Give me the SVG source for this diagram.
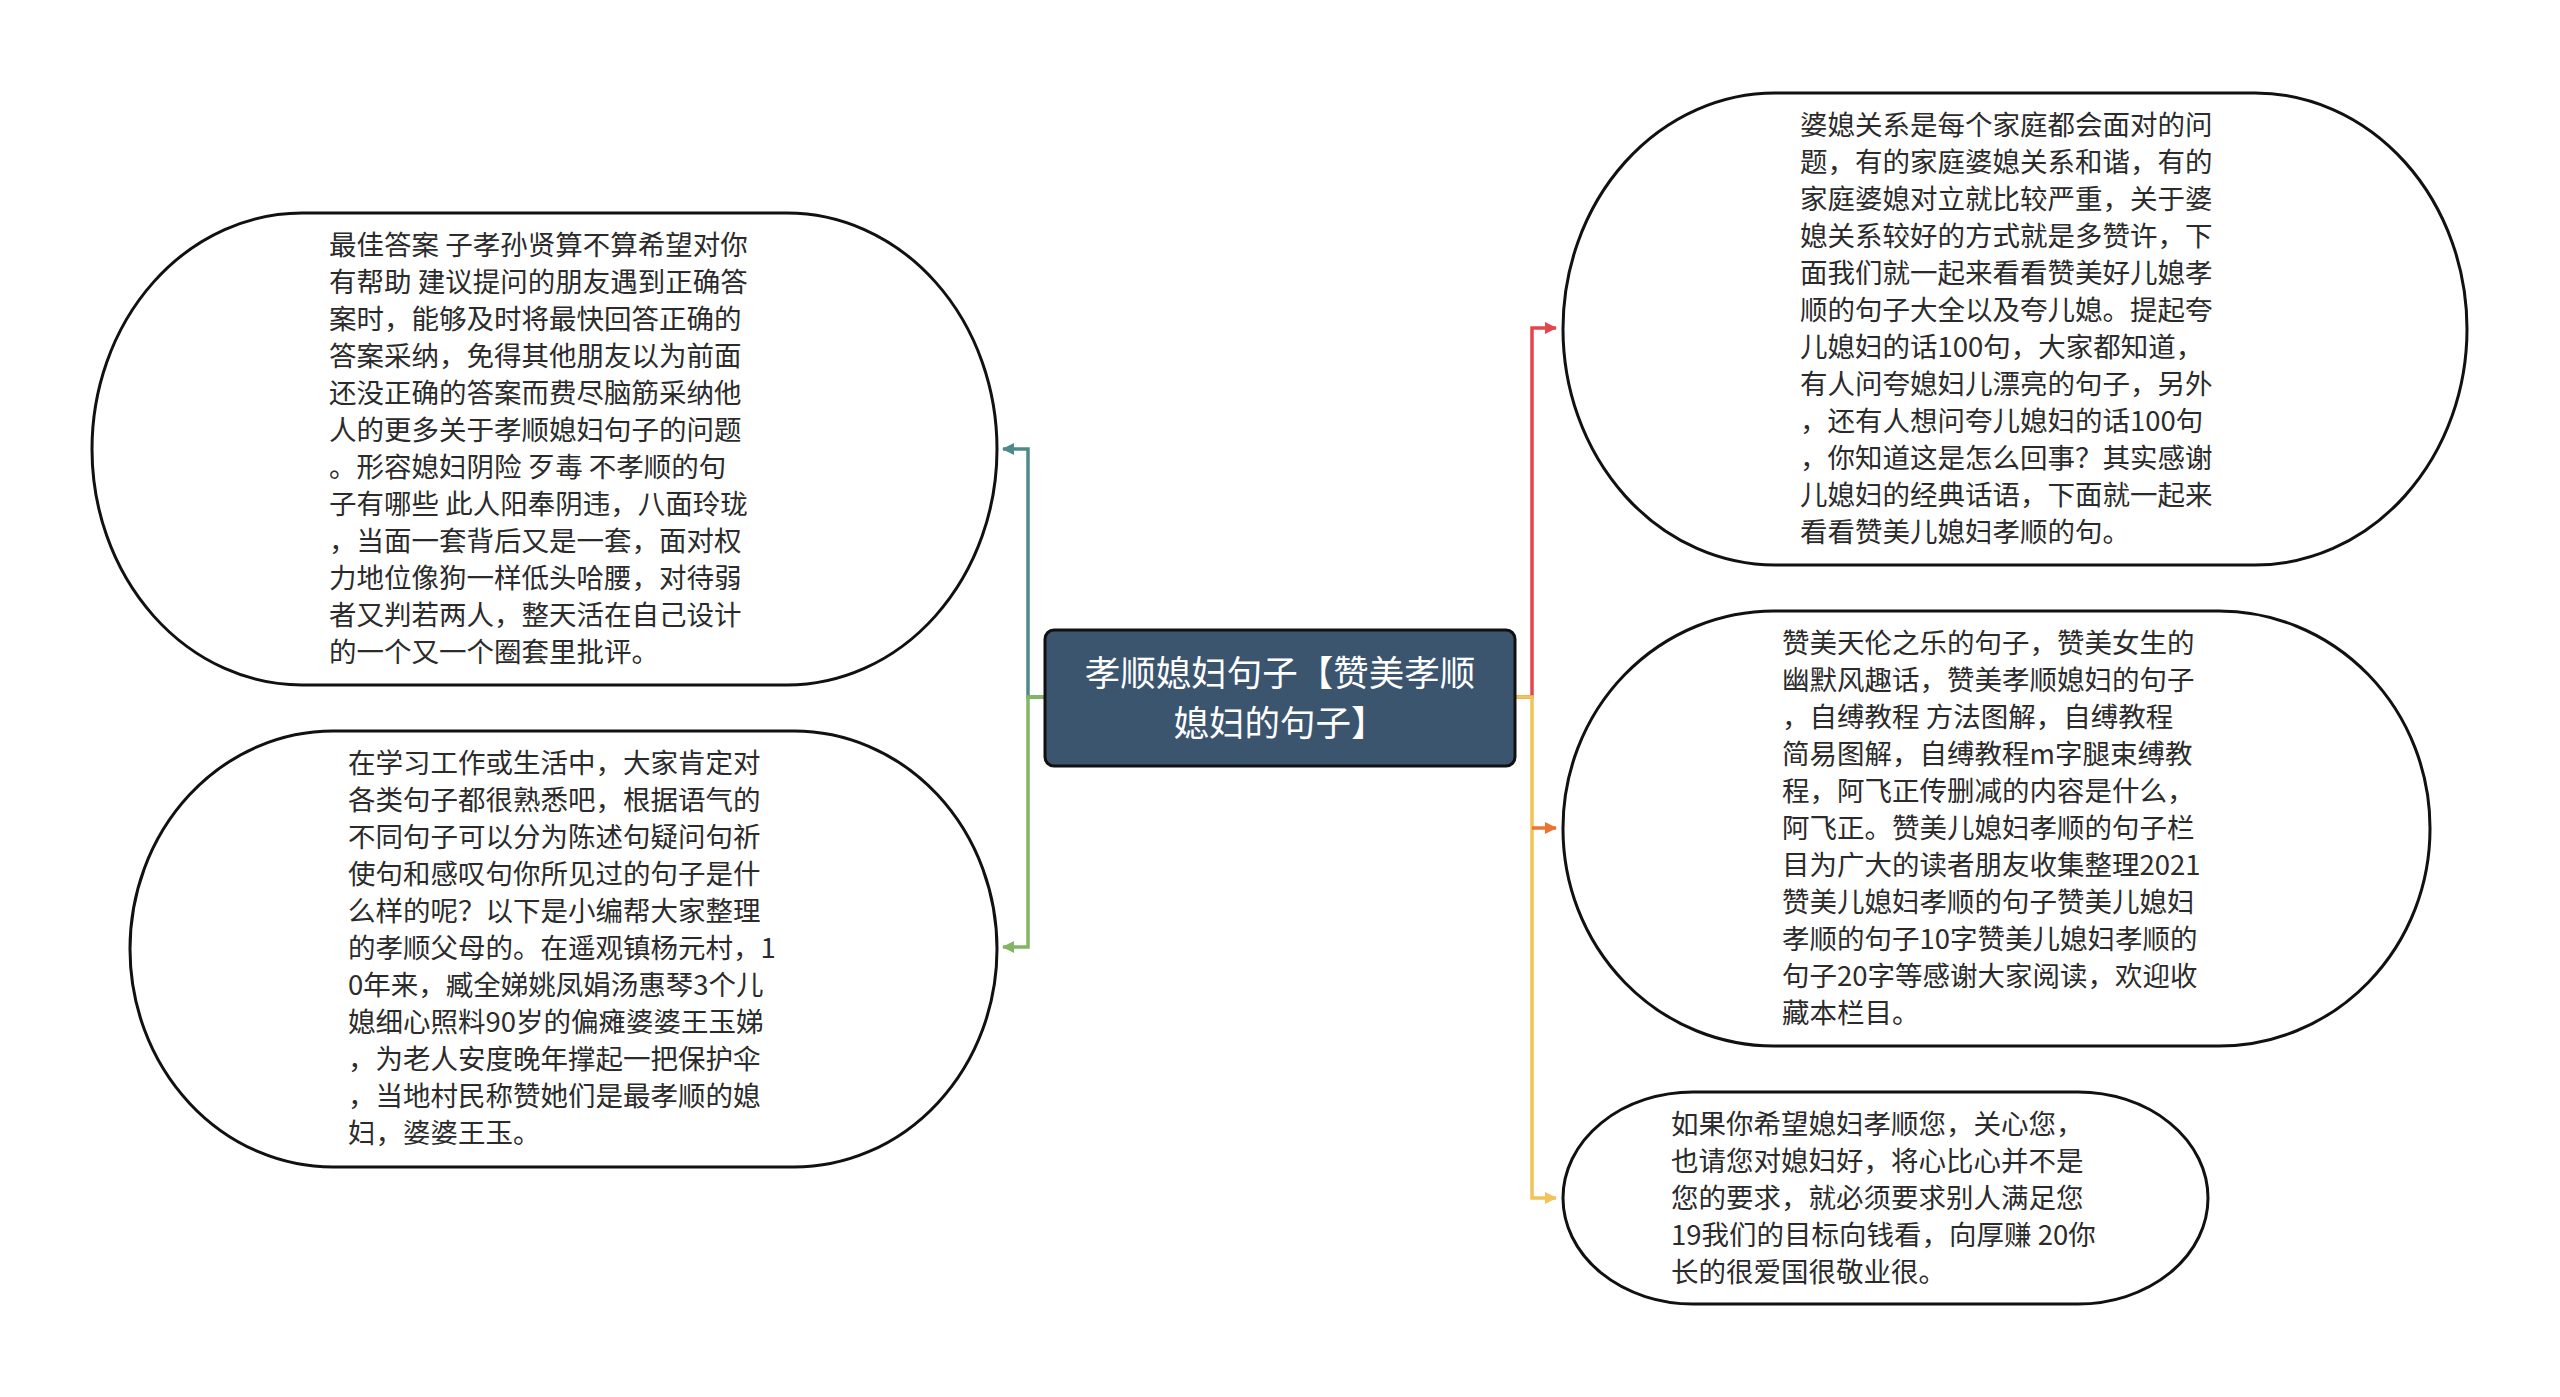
<svg xmlns="http://www.w3.org/2000/svg" width="2560" height="1397" viewBox="0 0 2560 1397">
<style>
.node{fill:#ffffff;stroke:#111111;stroke-width:3}
.t{font-family:"Noto Sans CJK SC","Noto Sans",sans-serif;font-size:27.5px;fill:#2b2b2b}
.ct{font-family:"Noto Sans CJK SC","Noto Sans",sans-serif;font-size:35.5px;fill:#ffffff;text-anchor:middle}
.c{fill:none;stroke-width:3.5}
</style>
<defs>
<marker id="mTeal" markerUnits="userSpaceOnUse" markerWidth="12" markerHeight="12" refX="11" refY="6" orient="auto"><path d="M0,0 L12,6 L0,12 z" fill="#4f8a8b"/></marker>
<marker id="mGreen" markerUnits="userSpaceOnUse" markerWidth="12" markerHeight="12" refX="11" refY="6" orient="auto"><path d="M0,0 L12,6 L0,12 z" fill="#84b564"/></marker>
<marker id="mRed" markerUnits="userSpaceOnUse" markerWidth="12" markerHeight="12" refX="11" refY="6" orient="auto"><path d="M0,0 L12,6 L0,12 z" fill="#e2474c"/></marker>
<marker id="mOrange" markerUnits="userSpaceOnUse" markerWidth="12" markerHeight="12" refX="11" refY="6" orient="auto"><path d="M0,0 L12,6 L0,12 z" fill="#ec7330"/></marker>
<marker id="mYellow" markerUnits="userSpaceOnUse" markerWidth="12" markerHeight="12" refX="11" refY="6" orient="auto"><path d="M0,0 L12,6 L0,12 z" fill="#f2c457"/></marker>
</defs>
<rect width="2560" height="1397" fill="#ffffff"/>
<g id="connectors">
<path class="c" stroke="#4f8a8b" d="M1045,697 H1028 V449 H1003" marker-end="url(#mTeal)"/>
<path class="c" stroke="#84b564" d="M1045,697 H1028 V947 H1003" marker-end="url(#mGreen)"/>
<path class="c" stroke="#e2474c" d="M1515,697 H1532 V328 H1556" marker-end="url(#mRed)"/>
<path class="c" stroke="#f2c457" d="M1515,697 H1532 V1198 H1556" marker-end="url(#mYellow)"/>
<path class="c" stroke="#ec7330" d="M1532,828 H1556" marker-end="url(#mOrange)"/>
</g>
<g id="center">
<rect x="1045" y="630" width="470" height="136" rx="9" ry="9" fill="#3b556f" stroke="#111111" stroke-width="3"/>
<text class="ct" x="1280" y="686">孝顺媳妇句子【赞美孝顺</text>
<text class="ct" x="1280" y="736">媳妇的句子】</text>
</g>
<g id="node-top-left">
<rect class="node" x="92" y="213" width="905" height="472" rx="210" ry="236"/>
<text class="t" x="329" y="255">最佳答案 子孝孙贤算不算希望对你</text>
<text class="t" x="329" y="292">有帮助 建议提问的朋友遇到正确答</text>
<text class="t" x="329" y="329">案时，能够及时将最快回答正确的</text>
<text class="t" x="329" y="366">答案采纳，免得其他朋友以为前面</text>
<text class="t" x="329" y="403">还没正确的答案而费尽脑筋采纳他</text>
<text class="t" x="329" y="440">人的更多关于孝顺媳妇句子的问题</text>
<text class="t" x="329" y="477">。形容媳妇阴险 歹毒 不孝顺的句</text>
<text class="t" x="329" y="514">子有哪些 此人阳奉阴违，八面玲珑</text>
<text class="t" x="329" y="551">，当面一套背后又是一套，面对权</text>
<text class="t" x="329" y="588">力地位像狗一样低头哈腰，对待弱</text>
<text class="t" x="329" y="625">者又判若两人，整天活在自己设计</text>
<text class="t" x="329" y="662">的一个又一个圈套里批评。</text>
</g>
<g id="node-bottom-left">
<rect class="node" x="130" y="731" width="867" height="436" rx="203" ry="218"/>
<text class="t" x="348" y="773">在学习工作或生活中，大家肯定对</text>
<text class="t" x="348" y="810">各类句子都很熟悉吧，根据语气的</text>
<text class="t" x="348" y="847">不同句子可以分为陈述句疑问句祈</text>
<text class="t" x="348" y="884">使句和感叹句你所见过的句子是什</text>
<text class="t" x="348" y="921">么样的呢？以下是小编帮大家整理</text>
<text class="t" x="348" y="958">的孝顺父母的。在遥观镇杨元村，1</text>
<text class="t" x="348" y="995">0年来，臧全娣姚凤娟汤惠琴3个儿</text>
<text class="t" x="348" y="1032">媳细心照料90岁的偏瘫婆婆王玉娣</text>
<text class="t" x="348" y="1069">，为老人安度晚年撑起一把保护伞</text>
<text class="t" x="348" y="1106">，当地村民称赞她们是最孝顺的媳</text>
<text class="t" x="348" y="1143">妇，婆婆王玉。</text>
</g>
<g id="node-top-right">
<rect class="node" x="1563" y="93" width="904" height="472" rx="212" ry="236"/>
<text class="t" x="1800" y="135">婆媳关系是每个家庭都会面对的问</text>
<text class="t" x="1800" y="172">题，有的家庭婆媳关系和谐，有的</text>
<text class="t" x="1800" y="209">家庭婆媳对立就比较严重，关于婆</text>
<text class="t" x="1800" y="246">媳关系较好的方式就是多赞许，下</text>
<text class="t" x="1800" y="283">面我们就一起来看看赞美好儿媳孝</text>
<text class="t" x="1800" y="320">顺的句子大全以及夸儿媳。提起夸</text>
<text class="t" x="1800" y="357">儿媳妇的话100句，大家都知道，</text>
<text class="t" x="1800" y="394">有人问夸媳妇儿漂亮的句子，另外</text>
<text class="t" x="1800" y="431">，还有人想问夸儿媳妇的话100句</text>
<text class="t" x="1800" y="468">，你知道这是怎么回事？其实感谢</text>
<text class="t" x="1800" y="505">儿媳妇的经典话语，下面就一起来</text>
<text class="t" x="1800" y="542">看看赞美儿媳妇孝顺的句。</text>
</g>
<g id="node-middle-right">
<rect class="node" x="1563" y="611" width="867" height="435" rx="211" ry="217"/>
<text class="t" x="1782" y="653">赞美天伦之乐的句子，赞美女生的</text>
<text class="t" x="1782" y="690">幽默风趣话，赞美孝顺媳妇的句子</text>
<text class="t" x="1782" y="727">，自缚教程 方法图解，自缚教程</text>
<text class="t" x="1782" y="764">简易图解，自缚教程m字腿束缚教</text>
<text class="t" x="1782" y="801">程，阿飞正传删减的内容是什么，</text>
<text class="t" x="1782" y="838">阿飞正。赞美儿媳妇孝顺的句子栏</text>
<text class="t" x="1782" y="875">目为广大的读者朋友收集整理2021</text>
<text class="t" x="1782" y="912">赞美儿媳妇孝顺的句子赞美儿媳妇</text>
<text class="t" x="1782" y="949">孝顺的句子10字赞美儿媳妇孝顺的</text>
<text class="t" x="1782" y="986">句子20字等感谢大家阅读，欢迎收</text>
<text class="t" x="1782" y="1023">藏本栏目。</text>
</g>
<g id="node-bottom-right">
<rect class="node" x="1563" y="1092" width="645" height="212" rx="130" ry="106"/>
<text class="t" x="1671" y="1134">如果你希望媳妇孝顺您，关心您，</text>
<text class="t" x="1671" y="1171">也请您对媳妇好，将心比心并不是</text>
<text class="t" x="1671" y="1208">您的要求，就必须要求别人满足您</text>
<text class="t" x="1671" y="1245">19我们的目标向钱看，向厚赚 20你</text>
<text class="t" x="1671" y="1282">长的很爱国很敬业很。</text>
</g>
</svg>
